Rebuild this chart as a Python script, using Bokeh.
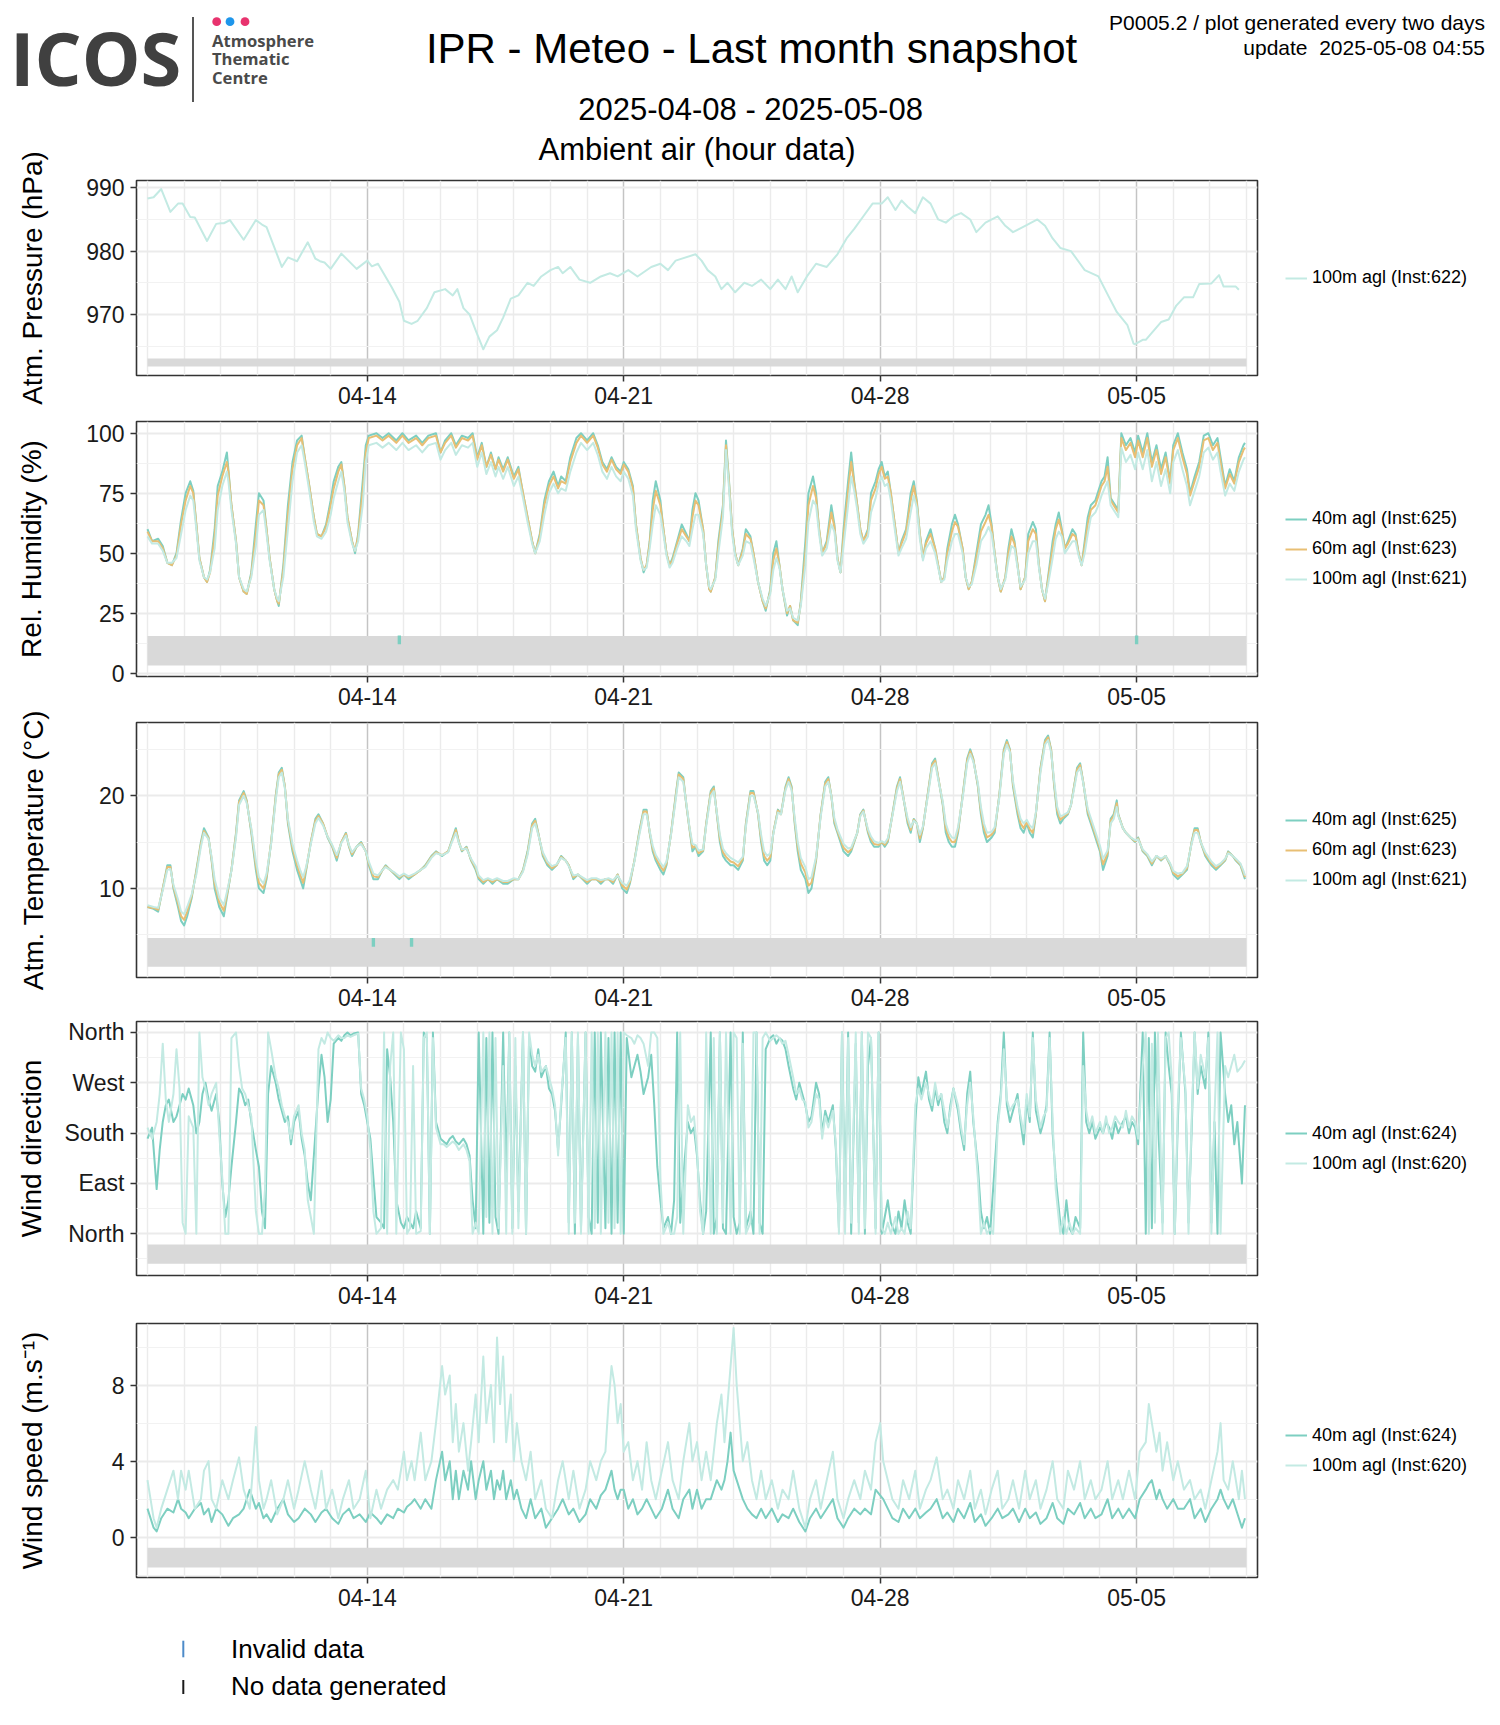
import numpy as np
import pandas as pd
from bokeh.plotting import figure
from bokeh.models import (Range1d, FixedTicker, Legend, LegendItem, DatetimeTickFormatter, Div)
from bokeh.layouts import column, row
from bokeh.embed import file_html
from bokeh.resources import INLINE

# ---------------------------------------------------------------- data
START = pd.Timestamp("2025-04-08 00:00")
END = pd.Timestamp("2025-05-08 00:00")
WEEK_TICKS = ["2025-04-14", "2025-04-21", "2025-04-28", "2025-05-05"]

# Atmospheric pressure, 100m (hours since 2025-04-08 00:00)
p_hours = [0, 4, 9, 15, 20, 23, 28, 31, 39, 45, 48, 50, 54, 63, 71, 75, 78, 88, 92, 98,
           105, 110, 113, 116, 120, 127, 137, 144, 147, 151, 160, 165,
           168, 173, 177, 183, 188, 195, 200, 203, 207, 211,
           215, 220, 224, 229, 233, 238, 243, 249, 253, 258,
           264, 269, 272, 277, 283, 290, 297, 303, 308, 315,
           321, 330, 336, 341, 346, 359, 363, 367, 372, 376,
           380, 385, 391, 396, 402, 408, 413, 418, 422, 426,
           432, 438, 445, 452, 458, 463, 469, 475, 481, 485,
           490, 494, 498, 503, 508, 513, 518, 523, 528, 533,
           539, 543, 549, 557, 562, 567, 575, 583, 588, 593,
           598, 605, 611, 614, 623, 630, 635, 642, 646, 647,
           652, 654, 664, 669, 674, 679, 685, 689, 697, 702,
           705, 713, 715]
p_100 = [988.3, 988.5, 989.8, 986.2, 987.5, 987.5, 985.4, 985.3, 981.6, 984.3, 984.4, 984.4, 984.9, 981.8, 984.9, 984.2, 983.8, 977.5, 979.0, 978.4,
         981.4, 978.8, 978.4, 978.2, 977.2, 979.6, 977.2, 978.5, 977.6, 978.0, 974.3, 972.0,
         969, 968.5, 969, 971, 973.5, 974, 973, 974, 971, 970,
         967.5, 964.5, 966.5, 967.5, 969.5, 972.5, 973, 975, 974.5, 976,
         977, 977.5, 976.5, 977.5, 975.5, 975, 976, 976.5, 976, 977,
         976, 977.5, 978, 977, 978.5, 979.5, 978.5, 977, 976, 974,
         975, 973.5, 975, 974.5, 975.5, 974, 975.5, 974, 976, 973.5,
         976, 978, 977.5, 979.5, 982, 983.5, 985.5, 987.5, 987.5, 988.5,
         986.5, 988, 987, 986, 988.5, 987.5, 985, 984.5, 985.5, 986,
         985, 983, 984.5, 985.5, 984, 983, 984, 985, 984, 982,
         980.5, 980, 978, 977, 976, 972.7, 970.4, 968.3, 965.4, 965.3,
         966, 966, 968.8, 969.2, 971.4, 972.7, 972.7, 974.8, 974.9, 976.2,
         974.4, 974.4, 973.9]

# Relative humidity (%)
rh_hours = [0, 3, 7, 10, 13, 16, 19, 22, 25, 28, 30, 32, 34, 37, 39, 41, 44, 46, 49, 52,
            53, 55, 58, 60, 63, 65, 68, 71, 73, 76, 78, 80, 83, 85, 86, 89, 92, 95, 98, 101,
            103, 106, 109, 111, 114, 117, 120, 122, 125, 127, 129, 131, 134, 136, 138, 141, 143, 145, 150, 154,
            158, 163, 167, 171, 176, 180, 184, 189, 192, 195, 199, 202, 206, 210, 213, 216, 219, 222, 225, 228,
            230, 233, 236, 240, 243, 246, 249, 252, 254, 257, 260, 263, 266, 269, 271, 274, 277, 281, 284, 288,
            292, 295, 298, 301, 304, 307, 310, 312, 315, 318, 320, 323, 325, 327, 329, 331, 333, 336, 338, 340,
            342, 344, 347, 350, 353, 355, 357, 359, 361, 364, 366, 368, 369, 372, 374, 377, 379, 381, 383, 385,
            387, 390, 392, 395, 397, 400, 403, 405, 408, 410, 412, 414, 416, 419, 421, 423, 426, 428, 431, 433,
            436, 438, 440, 442, 445, 448, 450, 452, 454, 456, 459, 461, 463, 465, 467, 469, 472, 474, 477, 479,
            481, 483, 485, 487, 490, 492, 494, 497, 500, 502, 504, 506, 508, 510, 513, 516, 518, 520, 522, 524,
            527, 529, 531, 534, 536, 538, 540, 543, 546, 549, 551, 553, 555, 557, 559, 562, 564, 566, 568, 570,
            572, 575, 577, 580, 582, 584, 586, 588, 590, 593, 595, 597, 599, 601, 603, 606, 608, 610, 612, 614,
            616, 618, 621, 623, 625, 627, 629, 631, 634, 636, 638, 641, 644, 647, 649, 652, 655, 658, 661, 664,
            667, 670, 672, 675, 678, 681, 683, 686, 689, 692, 695, 698, 701, 703, 706, 709, 712, 715, 718, 719]
rh_40 = [60, 55, 56, 53, 46, 45, 50, 64, 75, 80, 76, 62, 48, 40, 38, 43, 60, 78, 84, 92,
         85, 70, 55, 40, 34, 33, 42, 62, 75, 72, 60, 48, 35, 30, 28, 45, 70, 88, 97, 99,
         90, 78, 65, 58, 57, 62, 72, 80, 86, 88, 78, 65, 55, 50, 58, 80, 95, 99, 100, 98,
         100, 97, 100, 97, 99, 96, 99, 100, 92, 97, 100, 95, 99, 98, 100, 90, 96, 86, 92, 85,
         90, 85, 90, 82, 86, 75, 65, 55, 50, 58, 72, 80, 84, 78, 82, 80, 90, 98, 100, 97,
         100, 95, 88, 85, 90, 86, 84, 88, 85, 78, 62, 48, 42, 45, 55, 72, 80, 72, 60, 50,
         45, 48, 55, 62, 58, 55, 68, 75, 72, 60, 45, 35, 34, 40, 55, 70, 97, 80, 60, 50,
         45, 52, 60, 57, 50, 38, 30, 26, 35, 50, 55, 45, 35, 24, 28, 22, 20, 30, 55, 75,
         82, 75, 60, 50, 55, 70, 62, 48, 42, 60, 80, 92, 80, 70, 60, 55, 60, 75, 80, 85,
         88, 82, 84, 75, 60, 50, 55, 60, 75, 80, 72, 58, 48, 55, 60, 52, 45, 38, 40, 52,
         62, 66, 62, 52, 40, 35, 38, 50, 62, 66, 70, 62, 50, 40, 34, 40, 52, 60, 55, 45,
         35, 40, 58, 63, 60, 45, 35, 30, 40, 55, 62, 67, 60, 52, 55, 60, 58, 50, 45, 55,
         65, 70, 72, 76, 80, 82, 90, 73, 70, 68, 100, 95, 98, 92, 99, 92, 100, 88, 95, 85,
         92, 80, 95, 100, 92, 85, 75, 82, 88, 99, 100, 95, 98, 90, 78, 85, 80, 90, 95, 96]
rh_60 = [59, 55, 55, 52, 46, 45, 49, 62, 72, 78, 75, 62, 48, 40, 38, 42, 57, 74, 82, 88,
         84, 70, 55, 40, 34, 33, 41, 58, 72, 70, 60, 48, 35, 30, 29, 43, 66, 85, 95, 98,
         90, 78, 65, 58, 57, 61, 70, 77, 84, 87, 78, 65, 55, 51, 57, 76, 92, 98, 99, 97,
         99, 96, 99, 96, 98, 95, 98, 99, 92, 96, 99, 94, 98, 97, 99, 89, 95, 86, 91, 85,
         89, 84, 89, 81, 85, 75, 65, 55, 50, 57, 70, 78, 82, 77, 80, 79, 88, 96, 99, 96,
         99, 94, 87, 84, 89, 85, 83, 87, 84, 77, 62, 48, 43, 45, 54, 68, 76, 70, 60, 50,
         45, 47, 54, 60, 57, 55, 65, 72, 70, 60, 45, 35, 34, 40, 53, 68, 95, 79, 60, 50,
         45, 51, 58, 56, 50, 38, 30, 27, 34, 47, 52, 45, 35, 25, 28, 22, 21, 29, 50, 70,
         78, 73, 60, 50, 54, 67, 61, 48, 42, 57, 76, 88, 79, 70, 60, 55, 59, 72, 77, 83,
         86, 81, 82, 75, 60, 50, 54, 59, 72, 78, 71, 58, 48, 54, 58, 52, 45, 38, 40, 50,
         59, 63, 61, 52, 40, 35, 38, 48, 59, 63, 66, 61, 50, 40, 34, 40, 50, 57, 54, 45,
         35, 40, 55, 60, 58, 45, 35, 30, 39, 52, 60, 64, 59, 52, 54, 58, 57, 50, 45, 53,
         62, 68, 70, 74, 78, 80, 86, 72, 69, 67, 98, 93, 96, 90, 97, 90, 98, 86, 93, 83,
         90, 79, 93, 98, 90, 83, 74, 80, 86, 97, 98, 93, 96, 88, 77, 83, 79, 88, 93, 94]
rh_100 = [57, 54, 54, 51, 46, 46, 48, 58, 68, 74, 72, 60, 47, 40, 39, 42, 52, 68, 78, 84,
          80, 68, 54, 40, 35, 34, 40, 53, 66, 68, 58, 47, 35, 31, 30, 40, 60, 80, 92, 95,
          88, 76, 63, 57, 56, 59, 66, 73, 80, 84, 76, 63, 54, 51, 55, 70, 88, 95, 96, 94,
          96, 93, 96, 93, 95, 92, 95, 96, 89, 93, 96, 91, 95, 94, 96, 86, 92, 83, 88, 82,
          86, 81, 86, 78, 82, 73, 63, 54, 50, 55, 66, 75, 79, 75, 77, 76, 84, 92, 96, 93,
          96, 91, 84, 81, 86, 82, 80, 84, 81, 74, 60, 47, 43, 44, 52, 62, 70, 66, 58, 49,
          44, 46, 52, 57, 55, 53, 60, 66, 66, 58, 45, 36, 35, 39, 50, 65, 93, 77, 58, 49,
          45, 49, 55, 54, 48, 38, 31, 28, 33, 43, 48, 44, 35, 26, 27, 23, 22, 28, 45, 63,
          72, 70, 58, 49, 52, 62, 59, 47, 42, 53, 70, 82, 76, 68, 58, 54, 57, 67, 73, 79,
          82, 78, 79, 72, 58, 49, 52, 56, 67, 74, 69, 56, 47, 52, 55, 50, 44, 38, 39, 47,
          55, 58, 58, 50, 40, 36, 37, 45, 55, 58, 61, 58, 49, 40, 35, 39, 47, 53, 52, 44,
          36, 39, 50, 55, 55, 44, 35, 31, 37, 48, 56, 59, 57, 50, 52, 55, 55, 49, 45, 50,
          58, 65, 67, 70, 74, 77, 80, 70, 67, 65, 94, 88, 91, 85, 92, 85, 93, 80, 88, 78,
          85, 75, 88, 93, 85, 78, 70, 76, 82, 92, 94, 89, 92, 84, 74, 79, 76, 84, 89, 90]

# Air temperature (degC)
t_hours = [0, 4, 7, 10, 13, 15, 17, 20, 22, 24, 26, 29, 32, 35, 37, 40, 42, 44, 47, 50,
           52, 55, 58, 60, 63, 65, 68, 71, 73, 76, 78, 81, 84, 86, 88, 90, 92, 95, 98, 100,
           102, 104, 107, 110, 112, 115, 118, 121, 124, 127, 130, 132, 134, 137, 140, 143, 145, 148, 151, 154,
           156, 159, 162, 165, 168, 171, 175, 179, 182, 186, 189, 193, 197, 199, 202, 204, 206, 209, 212, 215,
           217, 220, 223, 226, 229, 233, 236, 240, 243, 246, 249, 252, 254, 256, 259, 262, 265, 268, 271, 274,
           276, 279, 282, 285, 288, 291, 294, 297, 300, 302, 305, 308, 311, 314, 316, 319, 322, 325, 327, 329,
           331, 333, 336, 338, 340, 343, 346, 348, 351, 353, 355, 357, 359, 361, 364, 366, 369, 371, 373, 375,
           377, 379, 382, 384, 387, 390, 392, 395, 397, 400, 402, 404, 406, 408, 410, 413, 415, 418, 420, 422,
           424, 426, 428, 431, 433, 435, 438, 441, 444, 446, 448, 450, 452, 454, 456, 459, 461, 463, 465, 467,
           469, 472, 474, 476, 479, 481, 483, 485, 488, 491, 493, 495, 498, 500, 502, 504, 506, 508, 511, 514,
           516, 518, 521, 523, 525, 527, 529, 531, 534, 537, 539, 541, 544, 546, 548, 550, 553, 555, 558, 561,
           563, 565, 567, 570, 572, 574, 576, 578, 580, 582, 585, 588, 590, 592, 594, 596, 598, 600, 603, 605,
           607, 609, 611, 613, 616, 618, 620, 622, 624, 626, 629, 631, 633, 635, 636, 639, 641, 644, 647, 649,
           652, 655, 658, 661, 664, 667, 670, 672, 675, 678, 681, 684, 686, 688, 690, 693, 695, 697, 700, 703,
           706, 708, 711, 713, 716, 718, 719]
t_40 = [8, 7.8, 7.5, 10, 12.5, 12.5, 10, 8, 6.5, 6, 7, 9, 12, 15, 16.5, 15.5, 13, 10, 8, 7,
        9, 12, 16, 19.5, 20.5, 19.5, 16, 12, 10, 9.5, 11, 15, 20, 22.5, 23, 21, 17, 14, 12, 11,
        10, 12, 15, 17.5, 18, 17, 15.5, 14.5, 13, 15, 16, 14.5, 13.5, 14.5, 15, 14, 12.5, 11, 11, 12,
        12.5, 12, 11.5, 11, 11.5, 11, 11.5, 12, 12.5, 13.5, 14, 13.5, 14, 15, 16.5, 15, 14, 14.5, 13, 12,
        11, 10.5, 11, 10.5, 11, 10.5, 10.5, 11, 11, 12, 14, 17, 17.5, 16, 13.5, 12.5, 12, 12.5, 13.5, 13,
        12.5, 11, 11.5, 11, 10.5, 11, 11, 10.5, 11, 11, 10.5, 11.5, 10, 9.5, 10.5, 13, 16, 18.5, 18.5, 16,
        14, 13, 12, 11.5, 12.5, 16, 20, 22.5, 22, 19, 16.5, 14, 14.5, 13.5, 14, 17, 20.5, 21, 18, 15,
        13.5, 13, 12.5, 12.5, 12, 13, 17, 20.5, 20.5, 18, 15, 13, 12.5, 13, 16, 18.5, 18, 21, 22, 21,
        17, 14, 12, 11, 9.5, 10, 13, 18, 21.5, 22, 20, 17, 16, 15, 14, 13.5, 14, 15, 16, 18,
        18.5, 16, 15, 14.5, 14.5, 15, 14.5, 15, 18, 21, 22, 20, 17, 16, 17.5, 17, 15, 16.5, 20, 23.5,
        24, 22, 19, 16, 15, 14.5, 14.5, 16, 20, 24, 25, 24, 21, 18, 16, 15, 15.5, 16, 20, 25,
        26, 25, 21, 18, 16.5, 16, 17, 16, 15.5, 18, 23, 26, 26.5, 25, 21, 18, 17, 17.5, 18, 19,
        21, 23, 23.5, 21.5, 18, 17, 16, 15, 14, 12, 13.5, 17.5, 18, 19.5, 18, 16.5, 16, 15.5, 15, 15.5,
        14, 13.5, 12.5, 13.5, 13, 13.5, 12.5, 11.5, 11, 11.5, 12, 15, 16.5, 16.5, 15, 13.5, 13, 12.5, 12, 12.5,
        13, 14, 13.5, 13, 12.5, 11.5, 11]
t_60 = [8, 7.9, 7.7, 10, 12.3, 12.3, 10.2, 8.4, 7, 6.6, 7.5, 9.2, 11.8, 14.8, 16.2, 15.4, 13.2, 10.5, 8.5, 7.6,
        9.3, 12, 15.8, 19.3, 20.3, 19.4, 16.3, 12.5, 10.6, 10, 11.3, 15, 19.8, 22.3, 22.8, 21, 17.3, 14.4, 12.5, 11.5,
        10.6, 12.2, 15, 17.3, 17.8, 17, 15.6, 14.6, 13.3, 15, 15.9, 14.6, 13.7, 14.5, 14.9, 14, 12.7, 11.3, 11.2, 12,
        12.4, 12, 11.6, 11.2, 11.5, 11.2, 11.5, 12, 12.4, 13.4, 13.9, 13.6, 14, 14.9, 16.3, 15, 14.1, 14.4, 13.1, 12.2,
        11.2, 10.7, 11, 10.7, 11, 10.7, 10.7, 11, 11, 11.9, 13.8, 16.8, 17.3, 15.9, 13.7, 12.7, 12.2, 12.5, 13.4, 13,
        12.5, 11.2, 11.5, 11.1, 10.7, 11, 11, 10.7, 11, 11, 10.7, 11.5, 10.3, 9.9, 10.7, 13, 15.8, 18.3, 18.3, 16.1,
        14.3, 13.3, 12.4, 11.9, 12.7, 15.9, 19.8, 22.3, 21.8, 19.1, 16.6, 14.4, 14.6, 13.8, 14.1, 16.9, 20.3, 20.8, 18.1, 15.4,
        13.9, 13.4, 12.9, 12.8, 12.4, 13.2, 16.8, 20.3, 20.3, 18.1, 15.4, 13.5, 13, 13.4, 16, 18.4, 18, 20.8, 21.8, 20.8,
        17.3, 14.5, 12.7, 11.7, 10.3, 10.6, 13.2, 17.9, 21.3, 21.8, 20, 17.3, 16.2, 15.3, 14.4, 13.9, 14.2, 15.1, 16, 17.9,
        18.4, 16.2, 15.3, 14.8, 14.7, 15, 14.7, 15.2, 17.9, 20.8, 21.8, 20, 17.3, 16.3, 17.4, 17, 15.4, 16.6, 19.9, 23.3,
        23.8, 22, 19.2, 16.5, 15.5, 15, 15, 16.3, 19.9, 23.8, 24.8, 23.9, 21.2, 18.4, 16.5, 15.5, 15.8, 16.3, 19.9, 24.8,
        25.8, 24.9, 21.3, 18.4, 17, 16.5, 17.2, 16.4, 16, 18.1, 22.8, 25.8, 26.3, 24.9, 21.3, 18.4, 17.4, 17.7, 18.1, 19,
        20.9, 22.8, 23.3, 21.5, 18.3, 17.3, 16.3, 15.3, 14.3, 12.6, 13.8, 17.3, 17.8, 19.2, 17.9, 16.5, 16, 15.5, 15.1, 15.4,
        14.1, 13.6, 12.7, 13.5, 13.1, 13.5, 12.6, 11.7, 11.3, 11.6, 12.2, 14.9, 16.3, 16.3, 15, 13.7, 13.2, 12.7, 12.2, 12.6,
        13.1, 13.9, 13.5, 13.1, 12.6, 11.7, 11.2]
t_100 = [8.2, 8, 7.9, 9.8, 12, 12.1, 10.4, 8.8, 7.5, 7.2, 8, 9.4, 11.5, 14.5, 16, 15.3, 13.4, 11, 9, 8.2,
         9.6, 11.9, 15.5, 19, 20, 19.2, 16.5, 13, 11.2, 10.5, 11.6, 14.8, 19.5, 22, 22.5, 20.8, 17.5, 14.8, 13, 12,
         11.2, 12.4, 14.8, 17, 17.6, 16.8, 15.6, 14.7, 13.6, 14.9, 15.7, 14.7, 13.9, 14.5, 14.8, 14, 12.9, 11.6, 11.4, 12,
         12.3, 12, 11.7, 11.3, 11.6, 11.3, 11.6, 12, 12.3, 13.3, 13.8, 13.6, 13.9, 14.8, 16, 14.9, 14.2, 14.3, 13.2, 12.4,
         11.4, 10.9, 11.1, 10.9, 11.1, 10.8, 10.8, 11.1, 11, 11.8, 13.6, 16.5, 17, 15.8, 13.9, 12.9, 12.4, 12.6, 13.3, 13,
         12.4, 11.4, 11.5, 11.2, 10.9, 11.1, 11.1, 10.9, 11, 11.1, 10.9, 11.4, 10.6, 10.3, 10.9, 12.9, 15.6, 18, 18, 16.2,
         14.6, 13.6, 12.8, 12.3, 12.9, 15.8, 19.5, 22, 21.5, 19.2, 16.7, 14.8, 14.7, 14.1, 14.2, 16.7, 20, 20.5, 18.2, 15.8,
         14.3, 13.8, 13.3, 13.1, 12.8, 13.4, 16.6, 20, 20, 18.2, 15.8, 14, 13.5, 13.8, 15.9, 18.2, 18, 20.6, 21.5, 20.6,
         17.6, 15, 13.3, 12.3, 11, 11.2, 13.4, 17.7, 21, 21.5, 20, 17.6, 16.4, 15.6, 14.8, 14.3, 14.4, 15.2, 16, 17.8,
         18.3, 16.4, 15.6, 15.1, 14.9, 15.1, 14.9, 15.4, 17.8, 20.5, 21.5, 19.9, 17.6, 16.6, 17.3, 17, 15.8, 16.7, 19.7, 23,
         23.5, 21.8, 19.4, 17, 16, 15.5, 15.4, 16.6, 19.7, 23.5, 24.5, 23.7, 21.4, 18.8, 17, 16, 16.1, 16.6, 19.7, 24.5,
         25.5, 24.7, 21.6, 18.8, 17.5, 17, 17.4, 16.8, 16.5, 18.2, 22.5, 25.5, 26, 24.7, 21.6, 18.8, 17.8, 17.9, 18.2, 19,
         20.7, 22.5, 23, 21.4, 18.6, 17.6, 16.6, 15.6, 14.6, 13.2, 14.1, 17, 17.5, 18.8, 17.8, 16.5, 16, 15.5, 15.2, 15.3,
         14.2, 13.7, 12.9, 13.5, 13.2, 13.5, 12.7, 11.9, 11.6, 11.7, 12.4, 14.8, 16, 16, 15, 13.9, 13.4, 12.9, 12.4, 12.7,
         13.2, 13.8, 13.5, 13.2, 12.7, 11.9, 11.4]

# Wind direction (degrees, 0 = North)
wd_hours = [0, 3, 6, 8, 10, 12, 14, 17, 19, 21, 23, 25, 27, 30, 32, 34, 36, 38, 40, 42,
            45, 47, 49, 51, 53, 55, 58, 60, 62, 64, 66, 68, 71, 73, 75, 77, 79, 81, 84, 86,
            88, 90, 92, 94, 96, 99, 101, 103, 105, 107, 109, 112, 114, 116, 118, 120, 122, 125, 127, 129,
            131, 133, 135, 138, 140, 142, 144, 146, 148, 150, 153, 155, 157, 159, 161, 163, 166, 168, 170, 172,
            174, 176, 179, 181, 183, 185, 187, 189, 192, 194, 196, 198, 200, 202, 204, 207, 209, 211, 213, 215,
            217, 220, 222, 224, 226, 228, 230, 233, 235, 237, 239, 241, 243, 246, 248, 250, 252, 254, 256, 258,
            261, 263, 265, 267, 269, 271, 274, 276, 278, 280, 282, 284, 287, 289, 291, 293, 295, 297, 300, 302,
            304, 306, 308, 310, 312, 314, 317, 319, 321, 323, 325, 328, 330, 332, 334, 336, 338, 341, 343, 345,
            347, 349, 351, 354, 356, 358, 360, 362, 364, 366, 369, 371, 373, 375, 377, 379, 382, 384, 386, 388,
            390, 392, 395, 397, 399, 401, 403, 405, 408, 410, 412, 414, 416, 418, 420, 423, 425, 427, 429, 431,
            433, 435, 438, 440, 442, 444, 446, 449, 451, 453, 455, 457, 459, 461, 464, 466, 468, 470, 472, 474,
            477, 479, 481, 483, 485, 487, 490, 492, 494, 496, 498, 500, 503, 505, 507, 510, 512, 514, 516, 518,
            520, 522, 524, 526, 528, 531, 533, 535, 537, 539, 541, 544, 546, 548, 550, 552, 554, 557, 559, 561,
            563, 565, 567, 570, 572, 574, 576, 578, 580, 582, 585, 587, 589, 591, 593, 595, 598, 600, 602, 604,
            606, 608, 611, 613, 615, 617, 619, 621, 624, 626, 628, 630, 632, 634, 636, 639, 641, 643, 645, 647,
            649, 652, 654, 656, 658, 660, 662, 665, 667, 669, 671, 673, 675, 677, 680, 682, 684, 686, 688, 690,
            693, 695, 697, 699, 701, 703, 706, 708, 710, 712, 714, 717, 719]
wd_40 = [170, 190, 80, 150, 200, 230, 240, 200, 210, 230, 250, 240, 260, 230, 180, 200, 250, 270, 240, 220,
         250, 200, 90, 30, 60, 120, 200, 260, 250, 230, 240, 200, 150, 120, 40, 10, 250, 300, 270, 240,
         220, 200, 210, 160, 200, 220, 170, 140, 90, 60, 140, 260, 320, 280, 200, 240, 340, 350, 345, 355,
         360, 355, 358, 360, 250, 230, 200, 170, 100, 30, 20, 10, 330, 280, 200, 60, 20, 10, 30, 20,
         10, 40, 10, 360, 350, 0, 360, 200, 170, 165, 160, 170, 175, 165, 160, 170, 160, 140, 60, 10,
         360, 0, 350, 20, 360, 30, 0, 360, 100, 360, 10, 300, 40, 360, 0, 350, 300, 290, 330, 280,
         300, 260, 250, 220, 150, 230, 360, 20, 360, 0, 350, 10, 360, 30, 0, 360, 20, 360, 10, 350,
         0, 360, 20, 360, 0, 350, 280, 300, 320, 290, 250, 280, 320, 230, 120, 60, 10, 30, 0, 60,
         360, 20, 100, 200, 180, 190, 140, 60, 0, 40, 360, 0, 30, 360, 10, 0, 360, 30, 0, 20,
         360, 10, 40, 0, 360, 20, 0, 330, 350, 355, 340, 350, 345, 330, 300, 260, 240, 270, 250, 230,
         200, 210, 270, 250, 180, 220, 200, 230, 150, 10, 360, 40, 360, 0, 340, 20, 360, 0, 300, 350,
         10, 360, 0, 30, 60, 20, 0, 40, 10, 60, 20, 0, 200, 280, 250, 290, 240, 220, 260, 230,
         250, 200, 180, 230, 260, 220, 180, 150, 250, 290, 200, 120, 40, 10, 30, 0, 80, 200, 250, 360,
         230, 200, 220, 250, 200, 160, 240, 200, 360, 220, 180, 200, 230, 360, 180, 100, 20, 0, 60, 10,
         0, 30, 10, 360, 200, 180, 200, 170, 190, 180, 200, 190, 170, 200, 180, 200, 210, 180, 200, 190,
         160, 360, 0, 350, 10, 360, 200, 20, 360, 300, 250, 0, 200, 360, 250, 20, 180, 360, 250, 300,
         260, 360, 20, 200, 0, 360, 250, 200, 230, 160, 200, 90, 230]
wd_100 = [190, 170, 200, 250, 340, 240, 200, 250, 330, 260, 20, 0, 210, 190, 0, 360, 280, 260, 230, 250,
          270, 180, 100, 0, 0, 350, 360, 300, 260, 250, 230, 210, 40, 0, 0, 80, 360, 330, 280, 260,
          230, 210, 200, 170, 210, 230, 180, 150, 60, 30, 0, 330, 350, 340, 360, 350, 345, 355, 350, 350,
          355, 352, 355, 358, 260, 240, 210, 150, 40, 0, 10, 360, 0, 300, 360, 0, 360, 330, 0, 10,
          300, 0, 5, 350, 360, 0, 350, 190, 160, 160, 155, 160, 165, 160, 150, 160, 150, 130, 0, 20,
          0, 360, 30, 360, 0, 350, 10, 300, 0, 360, 0, 350, 10, 360, 0, 360, 320, 300, 320, 290,
          300, 280, 260, 230, 140, 240, 350, 0, 360, 20, 360, 0, 360, 0, 360, 10, 360, 0, 360, 20,
          360, 10, 360, 0, 360, 355, 350, 340, 355, 350, 340, 300, 360, 360, 350, 100, 0, 20, 0, 0,
          30, 360, 0, 230, 200, 210, 150, 40, 0, 360, 0, 350, 0, 360, 20, 360, 0, 360, 350, 0,
          340, 0, 20, 360, 360, 0, 350, 360, 345, 350, 355, 350, 340, 345, 320, 280, 250, 260, 240, 235,
          190, 200, 250, 240, 170, 210, 190, 220, 160, 0, 360, 0, 350, 20, 360, 0, 360, 10, 360, 350,
          0, 360, 10, 0, 20, 0, 30, 0, 10, 0, 40, 10, 230, 260, 240, 270, 250, 230, 270, 240,
          250, 220, 190, 220, 260, 230, 190, 160, 230, 270, 210, 100, 0, 20, 0, 10, 0, 190, 240, 330,
          240, 220, 230, 240, 210, 180, 250, 210, 350, 240, 190, 210, 220, 350, 200, 80, 0, 30, 0, 20,
          0, 10, 0, 300, 220, 190, 210, 180, 200, 180, 210, 180, 190, 210, 200, 190, 220, 190, 210, 200,
          170, 300, 360, 0, 340, 20, 360, 0, 350, 360, 280, 0, 230, 350, 260, 0, 200, 360, 260, 320,
          280, 350, 0, 210, 360, 0, 300, 280, 300, 320, 290, 300, 310]

# Wind speed (m/s)
ws_hours = [0, 4, 6, 9, 13, 17, 20, 22, 25, 27, 31, 35, 37, 40, 42, 45, 49, 53, 56, 60,
            63, 67, 69, 71, 73, 76, 78, 81, 85, 89, 92, 96, 99, 103, 107, 110, 114, 117, 121, 125,
            128, 132, 135, 139, 143, 146, 150, 153, 157, 161, 164, 168, 170, 173, 175, 179, 182, 186, 189, 193,
            195, 198, 200, 202, 204, 207, 210, 212, 215, 217, 220, 222, 225, 227, 229, 231, 233, 235, 238, 240,
            242, 245, 248, 251, 254, 258, 261, 265, 269, 272, 276, 279, 283, 287, 290, 294, 297, 300, 302, 304,
            306, 308, 310, 312, 315, 318, 321, 324, 327, 330, 333, 337, 341, 344, 348, 351, 355, 357, 360, 363,
            366, 369, 373, 376, 378, 380, 382, 384, 386, 388, 390, 393, 396, 399, 402, 405, 409, 413, 416, 420,
            423, 427, 431, 434, 438, 441, 445, 449, 452, 456, 459, 463, 467, 470, 474, 477, 480, 482, 485, 488,
            492, 495, 499, 503, 506, 510, 513, 517, 521, 524, 528, 531, 535, 539, 542, 546, 549, 553, 557, 560,
            564, 567, 571, 575, 578, 582, 585, 589, 593, 596, 600, 603, 607, 611, 614, 618, 621, 625, 629, 632,
            636, 639, 643, 647, 650, 654, 656, 658, 661, 663, 665, 668, 672, 675, 679, 683, 686, 690, 693, 697,
            701, 703, 705, 708, 711, 715, 717, 719]
ws_40 = [1.5, 0.5, 0.3, 1, 1.5, 1.3, 2, 1.5, 1.3, 1, 1.5, 1.8, 1.2, 1.5, 0.8, 1.5, 1.2, 0.6, 1, 1.2,
         1.5, 2.5, 2, 1.5, 1.8, 1, 1.2, 0.8, 1.5, 2, 1.2, 0.8, 1, 1.5, 1.2, 0.8, 1.3, 1.5, 1, 0.7,
         1.2, 1.5, 1, 1.2, 0.8, 1.3, 1, 0.7, 1.2, 1, 1.5, 1.3, 1.6, 1.8, 2, 1.5, 2, 1.5, 3, 4.5,
         3, 4, 2, 3.5, 2, 3.5, 2.5, 4, 2, 3, 4, 2.5, 3.5, 2, 3, 2.5, 3.5, 2, 3, 2,
         2.5, 1.5, 1, 2, 1, 1.5, 0.5, 1, 1.5, 2, 1.2, 1.5, 0.8, 1.2, 2, 1.5, 2.2, 2.5, 3, 3.5,
         2.5, 2, 2.5, 2.5, 1.5, 2, 1.2, 1.5, 2, 1.5, 1, 1.5, 2.5, 1.5, 1, 2, 2.5, 1.5, 2.5, 1.5,
         2, 2, 3, 2.5, 3, 4, 5.5, 3.5, 3, 2.5, 2, 1.5, 1.2, 1, 1.5, 1, 1.5, 0.8, 1.2, 1,
         1.5, 0.8, 0.3, 1, 1.5, 1, 1.5, 2, 1, 0.5, 1, 1.5, 1.2, 1.5, 1.2, 2.5, 2.2, 2, 1.5, 1,
         0.8, 1.5, 1, 1.5, 1, 1.3, 1.5, 2, 1, 1.3, 0.8, 1.5, 1, 1.8, 0.8, 1.2, 0.6, 1, 1.5, 1,
         1.2, 1.5, 0.8, 1.5, 1, 1.3, 0.7, 1, 1.8, 1, 0.7, 1.5, 1.2, 1.8, 1, 1.5, 1, 1.2, 2, 1,
         1.5, 1, 1.5, 1, 2, 2.5, 2.8, 3, 2, 2.5, 2, 1.5, 2, 1.5, 1.5, 2, 1, 1.5, 0.8, 1.5,
         2, 2.5, 2, 1.5, 2, 1, 0.5, 1]
ws_100 = [3, 1, 0.5, 1.5, 2.5, 3.5, 2, 3.5, 2.5, 3.5, 1.5, 2, 3.5, 4, 2, 1.5, 3, 2, 3, 4.2,
          2.5, 1.5, 3.5, 5.8, 3, 1.5, 2, 3, 1.2, 2, 3, 1.5, 2.5, 4, 2.5, 1.5, 3.5, 1.5, 2.5, 1,
          2, 3, 1.5, 2, 3.5, 1, 2.5, 1.5, 2.5, 3, 2.5, 4.5, 3, 4, 3, 5.5, 3, 4, 6, 9,
          7.5, 8.5, 5, 7, 4.5, 6, 3.5, 5, 7.5, 5, 9.5, 6, 8, 5, 10.5, 7, 9.5, 5, 7.5, 4,
          6, 4, 3, 4.5, 2, 3, 1.5, 1, 3, 4, 2, 3.5, 1.5, 2.5, 4, 3, 4, 4.5, 7, 9,
          8, 6, 7, 4.5, 5, 3, 4, 2.5, 5, 3, 2, 3.5, 5, 3, 2, 4, 6, 4, 5, 3,
          4.5, 3, 6, 7.5, 5, 7, 9, 11, 8, 6, 4, 5, 3, 2, 3.5, 2, 3, 1.5, 2.5, 2,
          3.5, 1.5, 0.5, 2, 3, 1.5, 3, 4.5, 2, 1, 2, 3, 2, 3.5, 2.5, 5, 6, 4, 3, 2,
          1.5, 3, 2, 3.5, 1.5, 2.5, 3, 4.2, 2, 2.5, 1.5, 3, 2, 3.5, 1.5, 2.5, 1.2, 2.5, 3.5, 1.5,
          2, 3, 1.5, 3.5, 2, 3, 1.5, 2.5, 4, 2, 1.5, 3.5, 2.5, 4, 2, 3, 2, 2.5, 4, 2,
          3, 2, 3.5, 2, 4.5, 5, 7, 6, 4.5, 5.5, 3.5, 5, 3, 4, 2.5, 3, 2, 2.5, 1.5, 3,
          4.5, 6, 3, 2.5, 4, 2, 3.5, 2]

# Flag marks (hours) shown in the availability strip
rh_flag_hours = [165, 648]
t_flag_hours = [148, 173]

# ---------------------------------------------------------------- style
FONT = "Liberation Sans"
C40, C60, C100 = "#7DCFC1", "#E8BF74", "#C3EAE3"
BAND = "#D9D9D9"
PW, LW = 1259, 241          # panel figure width, legend figure width
LEFT, RIGHT = 136, 2


def to_dt(hours):
    return (START + pd.to_timedelta(np.asarray(hours, dtype=float), unit="h")).to_numpy()


def ms(ts):
    return pd.Timestamp(ts).value / 1e6


pad = (END - START) * 0.01
XR = Range1d(start=START - pad, end=END + pad)
major_x = [ms(d) for d in WEEK_TICKS]
minor_x = [ms(START + pd.Timedelta(days=i)) for i in range(31)]
minor_x = [m for m in minor_x if m not in major_x]
FMT = "%m-%d"
xfmt = DatetimeTickFormatter(microseconds=FMT, milliseconds=FMT, seconds=FMT, minsec=FMT,
                             minutes=FMT, hourmin=FMT, hours=FMT, days=FMT, months=FMT,
                             years=FMT, strip_leading_zeros=False)


def panel(top, h_frame, bottom, yr, yticks, yminor, ylabel, ystand, lines, band,
          flags=(), flag_range=None, overrides=None, label_size="28px", margin=None):
    H = top + h_frame + bottom
    p = figure(width=PW, height=H, x_axis_type="datetime", x_range=XR,
               y_range=Range1d(*yr), output_backend="svg", toolbar_location=None,
               min_border_left=LEFT, min_border_right=RIGHT, min_border_top=top,
               min_border_bottom=bottom, title=None)
    p.background_fill_color = "white"
    p.border_fill_color = "white"
    p.border_fill_alpha = 0
    p.outline_line_color = "#333333"
    p.outline_line_width = 1.6
    p.xaxis.ticker = FixedTicker(ticks=major_x, minor_ticks=minor_x)
    p.xaxis.formatter = xfmt
    p.yaxis.ticker = FixedTicker(ticks=yticks, minor_ticks=yminor)
    if overrides:
        p.yaxis.major_label_overrides = overrides
    for ax in p.axis:
        ax.axis_line_color = None
        ax.major_tick_line_color = "#333333"
        ax.major_tick_line_width = 1.5
        ax.major_tick_in = 0
        ax.major_tick_out = 6
        ax.minor_tick_line_color = None
        ax.major_label_text_font = FONT
        ax.major_label_text_font_size = "23px"
        ax.major_label_text_color = "#1a1a1a"
        ax.major_label_standoff = 6
    p.xaxis.major_label_standoff = 5
    p.yaxis.axis_label = ylabel
    p.yaxis.axis_label_text_font = FONT
    p.yaxis.axis_label_text_font_size = label_size
    p.yaxis.axis_label_text_font_style = "normal"
    p.yaxis.axis_label_text_color = "black"
    p.yaxis.axis_label_standoff = ystand

    p.xgrid.grid_line_color = "#C4C4C4"
    p.xgrid.grid_line_width = 1.5
    p.xgrid.minor_grid_line_color = "#EBEBEB"
    p.xgrid.minor_grid_line_width = 1.4
    p.ygrid.grid_line_color = "#EBEBEB"
    p.ygrid.grid_line_width = 1.8
    p.ygrid.minor_grid_line_color = "#F2F2F2"
    p.ygrid.minor_grid_line_width = 1.1

    # availability strip
    p.quad(left=[START], right=[END], bottom=[band[0]], top=[band[1]],
           fill_color=BAND, line_color=None)
    if flags:
        fh = np.asarray(flags, dtype=float)
        p.quad(left=to_dt(fh - 1.1), right=to_dt(fh + 1.1),
               bottom=[flag_range[0]] * len(fh), top=[flag_range[1]] * len(fh),
               fill_color=C40, line_color=None)

    for hours, vals, color, label in lines:
        n = min(len(hours), len(vals))
        p.line(to_dt(hours[:n]), vals[:n], line_color=color, line_width=2, line_join="round")

    # legend, drawn in its own small figure to the right of the panel
    lf = figure(width=LW, height=H, x_range=Range1d(0, 1), y_range=Range1d(0, 1),
                output_backend="svg", toolbar_location=None, min_border=0,
                x_axis_location=None, y_axis_location=None, title=None)
    lf.grid.visible = False
    lf.outline_line_color = None
    lf.background_fill_alpha = 0
    lf.border_fill_alpha = 0
    items = []
    for hours, vals, color, label in lines:
        # key line only (kept outside the visible range of this small figure)
        r = lf.line(x=[0, 1], y=[5, 5], line_color=color, line_width=2)
        items.append(LegendItem(label=label, renderers=[r]))
    n = len(items)
    leg_h = n * 26 + (n - 1) * 4
    leg = Legend(items=items, location=(26, h_frame / 2 - leg_h / 2),
                 orientation="vertical", margin=0, padding=0, spacing=4,
                 glyph_width=22, glyph_height=26, label_height=26, label_standoff=5,
                 label_text_font=FONT, label_text_font_size="18px",
                 label_text_color="black", border_line_color=None,
                 background_fill_alpha=0)
    lf.add_layout(leg)
    kw = {} if margin is None else {"margin": margin}
    return row(p, lf, spacing=0, **kw)


# ---------------------------------------------------------------- panels
r1 = panel(30, 195, 42, (960.36, 991.15), [970, 980, 990], [965, 975, 985],
           "Atm. Pressure (hPa)", 35,
           [(p_hours, p_100, C100, "100m agl (Inst:622)")], (961.8, 963.05),
           margin=(-30, 0, 0, 0))
r2 = panel(4, 255, 39, (-1.4, 104.9), [0, 25, 50, 75, 100], [12.5, 37.5, 62.5, 87.5],
           "Rel. Humidity (%)", 36,
           [(rh_hours, rh_40, C40, "40m agl (Inst:625)"),
            (rh_hours, rh_60, C60, "60m agl (Inst:623)"),
            (rh_hours, rh_100, C100, "100m agl (Inst:621)")],
           (3.2, 15.5), flags=rh_flag_hours, flag_range=(12.0, 15.7))
r3 = panel(17, 255, 40, (0.39, 27.9), [10, 20], [5, 15, 25],
           "Atm. Temperature (°C)", 47,
           [(t_hours, t_40, C40, "40m agl (Inst:625)"),
            (t_hours, t_60, C60, "60m agl (Inst:623)"),
            (t_hours, t_100, C100, "100m agl (Inst:621)")],
           (1.55, 4.65), flags=t_flag_hours, flag_range=(3.7, 4.65),
           margin=(-10, 0, 0, 0))
r4 = panel(4, 254, 44, (-74.5, 379.6), [0, 90, 180, 270, 360], [-45, 45, 135, 225, 315],
           "Wind direction", 14,
           [(wd_hours, wd_40, C40, "40m agl (Inst:624)"),
            (wd_hours, wd_100, C100, "100m agl (Inst:620)")],
           (-53.6, -19.1),
           overrides={0: "North", 90: "East", 180: "South", 270: "West", 360: "North"})
r5 = panel(4, 254, 42, (-2.12, 11.24), [0, 4, 8], [-2, 2, 6, 10],
           "Wind speed (m.s\u207b\u00b9)", 61,
           [(ws_hours, ws_40, C40, "40m agl (Inst:624)"),
            (ws_hours, ws_100, C100, "100m agl (Inst:620)")],
           (-1.6, -0.55))

# ---------------------------------------------------------------- header and footer (SVG text)
SANS = "font-family:'Liberation Sans',Arial,sans-serif"
OPEN = "font-family:'Open Sans',sans-serif;font-weight:bold"
header_svg = f"""
<svg xmlns="http://www.w3.org/2000/svg" width="1500" height="180" style="display:block">
  <text x="10" y="86" style="{OPEN};font-size:74px" fill="#404040">ICOS</text>
  <line x1="193" y1="17" x2="193" y2="102" stroke="#555555" stroke-width="2"/>
  <circle cx="216.7" cy="21.7" r="4.4" fill="#E8336E"/>
  <circle cx="230.0" cy="21.7" r="4.4" fill="#1E96EB"/>
  <circle cx="245.0" cy="21.7" r="4.4" fill="#E8336E"/>
  <text x="212" y="46.7" style="{OPEN};font-size:16.6px" fill="#4A4A4A">Atmosphere</text>
  <text x="212" y="65.2" style="{OPEN};font-size:16.6px" fill="#4A4A4A">Thematic</text>
  <text x="212" y="83.5" style="{OPEN};font-size:16.6px" fill="#4A4A4A">Centre</text>
  <text x="751.6" y="62.7" text-anchor="middle" style="{SANS};font-size:42px" fill="black">IPR - Meteo - Last month snapshot</text>
  <text x="750.6" y="119.5" text-anchor="middle" style="{SANS};font-size:31px" fill="black">2025-04-08 - 2025-05-08</text>
  <text x="697" y="160" text-anchor="middle" style="{SANS};font-size:31px" fill="black">Ambient air (hour data)</text>
  <text x="1485" y="30" text-anchor="end" style="{SANS};font-size:21px;white-space:pre" fill="black">P0005.2 / plot generated every two days</text>
  <text x="1485" y="55" text-anchor="end" style="{SANS};font-size:21px;white-space:pre" fill="black">update  2025-05-08 04:55</text>
</svg>"""
footer_svg = f"""
<svg xmlns="http://www.w3.org/2000/svg" width="1500" height="100" style="display:block">
  <line x1="183.3" y1="21.7" x2="183.3" y2="38.3" stroke="#4D8BC9" stroke-width="2"/>
  <line x1="183.3" y1="61" x2="183.3" y2="75" stroke="#1a1a1a" stroke-width="2"/>
  <text x="231" y="39.3" style="{SANS};font-size:26px" fill="black">Invalid data</text>
  <text x="231" y="76" style="{SANS};font-size:26px" fill="black">No data generated</text>
</svg>"""
header = Div(text=header_svg, width=1500, height=180, margin=(0, 0, 0, 0))
footer = Div(text=footer_svg, width=1500, height=100, margin=(0, 0, 0, 0))

layout = column(header, r1, r2, r3, r4, r5, footer, spacing=0)
open("out.html", "w").write(file_html(layout, INLINE, title="IPR - Meteo - Last month snapshot"))
